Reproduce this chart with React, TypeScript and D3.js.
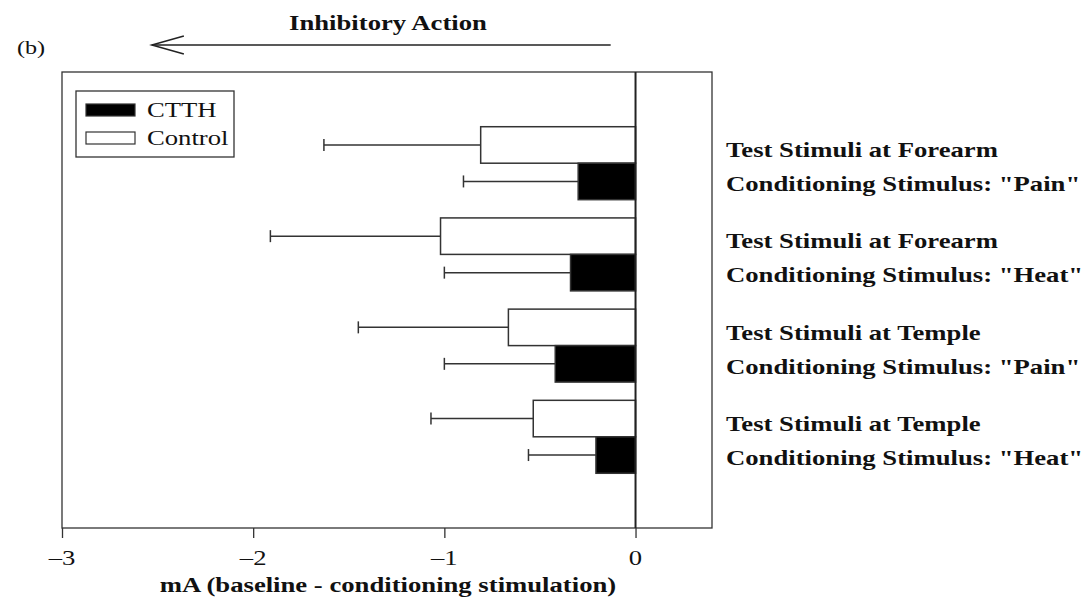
import { useEffect, useRef } from 'react'
import * as d3 from 'd3'

// Group labels, top to bottom
const groups = [
  ['Test Stimuli at Forearm', 'Conditioning Stimulus: "Pain"'],
  ['Test Stimuli at Forearm', 'Conditioning Stimulus: "Heat"'],
  ['Test Stimuli at Temple', 'Conditioning Stimulus: "Pain"'],
  ['Test Stimuli at Temple', 'Conditioning Stimulus: "Heat"'],
]

// mean and error-bar end (mA)
const controlMean = [-0.81, -1.02, -0.665, -0.535]
const controlErr = [-1.63, -1.91, -1.45, -1.07]
const ctthMean = [-0.30, -0.34, -0.42, -0.207]
const ctthErr = [-0.90, -1.0, -1.0, -0.56]

const xTicks = [-3, -2, -1, 0]

const FONT = "'Liberation Serif', 'Times New Roman', Times, serif"
// the source figure is stretched sideways, so text gets widened
const STRETCH = 1.27

export default function App() {
  const svgRef = useRef<SVGSVGElement>(null)

  useEffect(() => {
    if (!svgRef.current) return
    const width = 1090
    const height = 602
    const plotL = 62
    const plotR = 712
    const plotT = 72
    const plotB = 528

    const svg = d3.select(svgRef.current)
    svg.selectAll('*').remove()
    svg.attr('width', width).attr('height', height)

    // draws text then widens it to mimic the stretched original
    const label = (x: number, y: number, txt: string, size: number, bold: boolean, anchor = 'start', stretch = STRETCH) => {
      const t = svg.append('text')
        .attr('x', x).attr('y', y)
        .attr('text-anchor', anchor)
        .style('font-family', FONT)
        .style('font-weight', bold ? 'bold' : 'normal')
        .style('font-size', size + 'px')
        .attr('fill', '#111')
        .text(txt)
      const w = (t.node() as SVGTextElement).getComputedTextLength()
      t.attr('textLength', w * stretch).attr('lengthAdjust', 'spacingAndGlyphs')
      return t
    }

    const x = d3.scaleLinear().domain([-3, 0.4]).range([plotL, plotR])
    // group centers sit at 1..4, frame spans 0..5
    const y = d3.scaleLinear().domain([0, 5]).range([plotT, plotB])
    const barH = y(0.4) - y(0)
    const stroke = '#333'

    // frame
    svg.append('rect')
      .attr('x', plotL).attr('y', plotT)
      .attr('width', plotR - plotL).attr('height', plotB - plotT)
      .attr('fill', 'none').attr('stroke', stroke).attr('stroke-width', 1.3)

    const series = [
      { mean: controlMean, err: controlErr, fill: '#fff', off: -1 },
      { mean: ctthMean, err: ctthErr, fill: '#000', off: 0 },
    ]

    series.forEach(s => {
      s.mean.forEach((m, i) => {
        const top = y(i + 1) + s.off * barH
        const cy = top + barH / 2
        // error bar
        svg.append('line')
          .attr('x1', x(m)).attr('x2', x(s.err[i]))
          .attr('y1', cy).attr('y2', cy)
          .attr('stroke', stroke).attr('stroke-width', 1.5)
        svg.append('line')
          .attr('x1', x(s.err[i])).attr('x2', x(s.err[i]))
          .attr('y1', cy - 6).attr('y2', cy + 6)
          .attr('stroke', stroke).attr('stroke-width', 1.5)
        svg.append('rect')
          .attr('x', x(m)).attr('y', top)
          .attr('width', x(0) - x(m)).attr('height', barH)
          .attr('fill', s.fill).attr('stroke', stroke).attr('stroke-width', 1.5)
      })
    })

    // zero line
    svg.append('line')
      .attr('x1', x(0)).attr('x2', x(0))
      .attr('y1', plotT).attr('y2', plotB)
      .attr('stroke', '#222').attr('stroke-width', 2)

    // x axis
    const ax = svg.append('g')
      .attr('transform', `translate(0,${plotB})`)
      .call(d3.axisBottom(x).tickValues(xTicks).tickSize(10).tickFormat(() => ''))
    ax.select('.domain').remove()
    ax.selectAll('line').attr('stroke', stroke).attr('stroke-width', 1.3)
    xTicks.forEach(v => {
      label(x(v), 565, v < 0 ? '\u2013' + Math.abs(v) : String(v), 21, false, 'middle')
    })

    label(388, 592, 'mA (baseline - conditioning stimulation)', 20, true, 'middle', STRETCH * 1.05)

    // group labels
    groups.forEach((g, i) => {
      const cy = y(i + 1)
      g.forEach((line, j) => {
        label(726, cy + (j === 0 ? -6 : 28), line, 21, true)
      })
    })

    // legend
    svg.append('rect')
      .attr('x', 76).attr('y', 91).attr('width', 158).attr('height', 66)
      .attr('fill', '#fff').attr('stroke', stroke).attr('stroke-width', 1.3)
    const items = [{ label: 'CTTH', fill: '#000' }, { label: 'Control', fill: '#fff' }]
    items.forEach((it, i) => {
      svg.append('rect')
        .attr('x', 86).attr('y', 104 + i * 28).attr('width', 49).attr('height', 12)
        .attr('fill', it.fill).attr('stroke', stroke).attr('stroke-width', 1.2)
      label(147, 117 + i * 28, it.label, 21, false)
    })

    // header
    label(17, 54, '(b)', 19, false)
    label(388, 30, 'Inhibitory Action', 21, true, 'middle')
    const ay = 45
    const ax0 = x(-0.13)
    const ax1 = x(-2.53)
    svg.append('line')
      .attr('x1', ax0).attr('x2', ax1).attr('y1', ay).attr('y2', ay)
      .attr('stroke', '#222').attr('stroke-width', 1.5)
    svg.append('path')
      .attr('d', `M${ax1 + 32},${ay - 9} L${ax1},${ay} L${ax1 + 32},${ay + 9}`)
      .attr('fill', 'none').attr('stroke', '#222').attr('stroke-width', 1.5)
  }, [])

  return <svg ref={svgRef} style={{ position: 'absolute', left: 0, top: 0 }} />
}
